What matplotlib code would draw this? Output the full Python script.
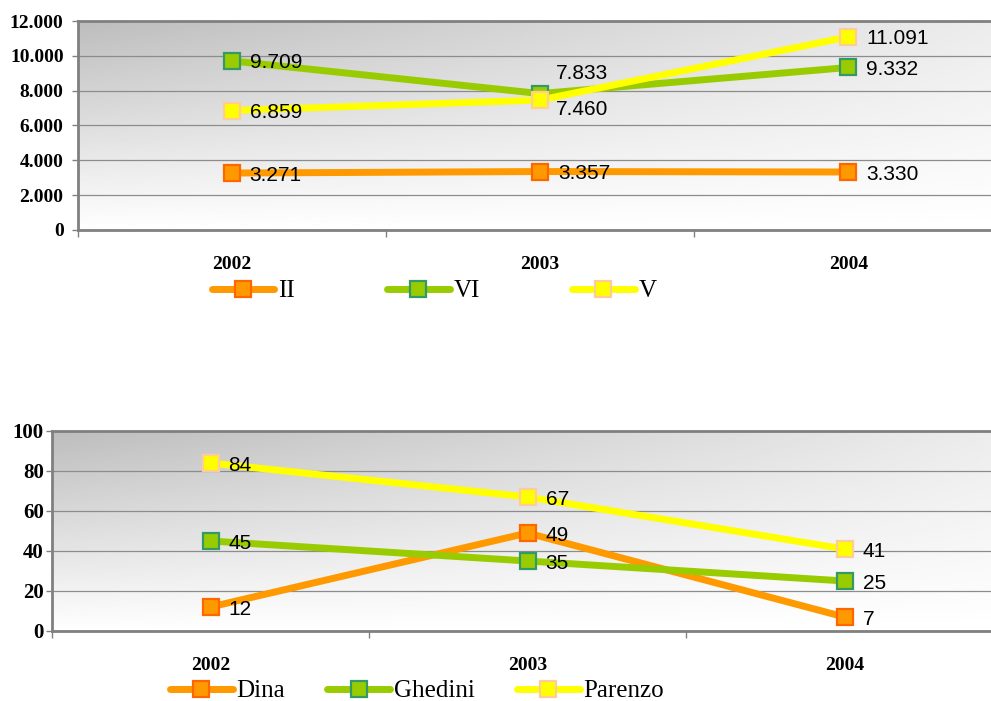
"""
Due grafici a linee 2002-2004 con etichette dei valori e sfondo sfumato.
"""
import matplotlib
matplotlib.use("Agg")
import matplotlib.pyplot as plt
import numpy as np
from matplotlib.ticker import FuncFormatter, FixedLocator, MultipleLocator

years = ["2002", "2003", "2004"]

# ---- grafico in alto ----
names_top = ["II", "VI", "V"]
serie_II = [3271, 3357, 3330]
serie_VI = [9709, 7833, 9332]
serie_V = [6859, 7460, 11091]

# ---- grafico in basso ----
names_bottom = ["Dina", "Ghedini", "Parenzo"]
dina = [12, 49, 7]
ghedini = [45, 35, 25]
parenzo = [84, 67, 41]

STYLES = [
    dict(color="#FF9900", mfc="#FF9900", mec="#FF6600"),   # arancio
    dict(color="#99CC00", mfc="#99CC00", mec="#339966"),   # verde
    dict(color="#FFFF00", mfc="#FFFF00", mec="#FFCC99"),   # giallo
]
GRIGIO = "#808080"


def ita(v, pos=None):
    # separatore delle migliaia all'italiana
    return f"{v:,.0f}".replace(",", ".")


def sfondo(ax):
    x = np.linspace(0, 1, 300)
    y = np.linspace(0, 1, 150)
    X, Y = np.meshgrid(x, y)
    d = Y * (1 - 0.72 * X)
    img = 1 - 0.26 * d
    ax.imshow(img, extent=[0, 1, 0, 1], transform=ax.transAxes, origin="lower",
              cmap="gray", vmin=0, vmax=1, aspect="auto", zorder=0,
              interpolation="bilinear")


def pannello(ax, serie, ymax, step, offsets, ylab_size, ylab_pad):
    sfondo(ax)
    handles = []
    for vals, st in zip(serie, STYLES):
        h, = ax.plot(range(len(years)), vals, lw=5, marker="s", ms=12, mew=1.6,
                     solid_capstyle="round", zorder=3, **st)
        handles.append(h)
    for k, (vals, st) in enumerate(zip(serie, STYLES)):
        for i, v in enumerate(vals):
            dx, dy = offsets.get((k, i), (13, 0))
            ax.annotate(ita(v), (i, v), xytext=(dx, dy - 1.5),
                        textcoords="offset points", ha="left", va="center",
                        fontsize=15, family="Liberation Sans", zorder=5)

    ax.set_xlim(-0.5, len(years) - 0.5)
    ax.set_ylim(0, ymax)
    ax.yaxis.set_major_locator(MultipleLocator(step))
    ax.yaxis.set_major_formatter(FuncFormatter(ita))
    ax.xaxis.set_major_locator(FixedLocator(range(len(years))))
    ax.set_xticklabels(years)
    ax.xaxis.set_minor_locator(FixedLocator([-0.5, 0.5, 1.5]))

    ax.set_axisbelow(True)
    ax.yaxis.grid(True, color="#8C8C8C", lw=0.9)
    for side in ["left", "bottom", "top"]:
        ax.spines[side].set_color(GRIGIO)
        ax.spines[side].set_linewidth(2)
    ax.spines["right"].set_visible(False)

    ax.tick_params(axis="y", length=4, width=1, color=GRIGIO, pad=ylab_pad)
    ax.tick_params(axis="x", which="major", length=0, pad=19)
    ax.tick_params(axis="x", which="minor", length=5, width=1, color=GRIGIO)
    for lbl in ax.get_yticklabels():
        lbl.set_family("Liberation Serif")
        lbl.set_weight("bold")
        lbl.set_size(ylab_size)
    for lbl in ax.get_xticklabels():
        lbl.set_family("Liberation Serif")
        lbl.set_weight("bold")
        lbl.set_size(14)
    return handles


fig = plt.figure(figsize=(9.91, 7.01), dpi=100)

# ---- in alto ----
ax1 = fig.add_axes([77.5 / 991, 1 - 230 / 701, 925 / 991, 209 / 701])
h1 = pannello(ax1, [serie_II, serie_VI, serie_V], 12000, 2000,
              {(1, 1): (11.5, 16), (2, 1): (11.5, -5)}, 14, 6)
fig.legend(h1, names_top, loc="center", bbox_to_anchor=(434 / 991, 1 - 291 / 701),
           ncol=3, frameon=False, numpoints=1, handlelength=2.5,
           handletextpad=0.15, columnspacing=3.7,
           prop={"family": "Liberation Serif", "size": 18})

# ---- in basso ----
ax2 = fig.add_axes([52 / 991, 1 - 631 / 701, 951 / 991, 200 / 701])
h2 = pannello(ax2, [dina, ghedini, parenzo], 100, 20, {}, 15, 2)
fig.legend(h2, names_bottom, loc="center", bbox_to_anchor=(417 / 991, 1 - 691 / 701),
           ncol=3, frameon=False, numpoints=1, handlelength=2.5,
           handletextpad=0.15, columnspacing=1.7,
           prop={"family": "Liberation Serif", "size": 18})

plt.savefig("out.png", dpi=100)
plt.close()
